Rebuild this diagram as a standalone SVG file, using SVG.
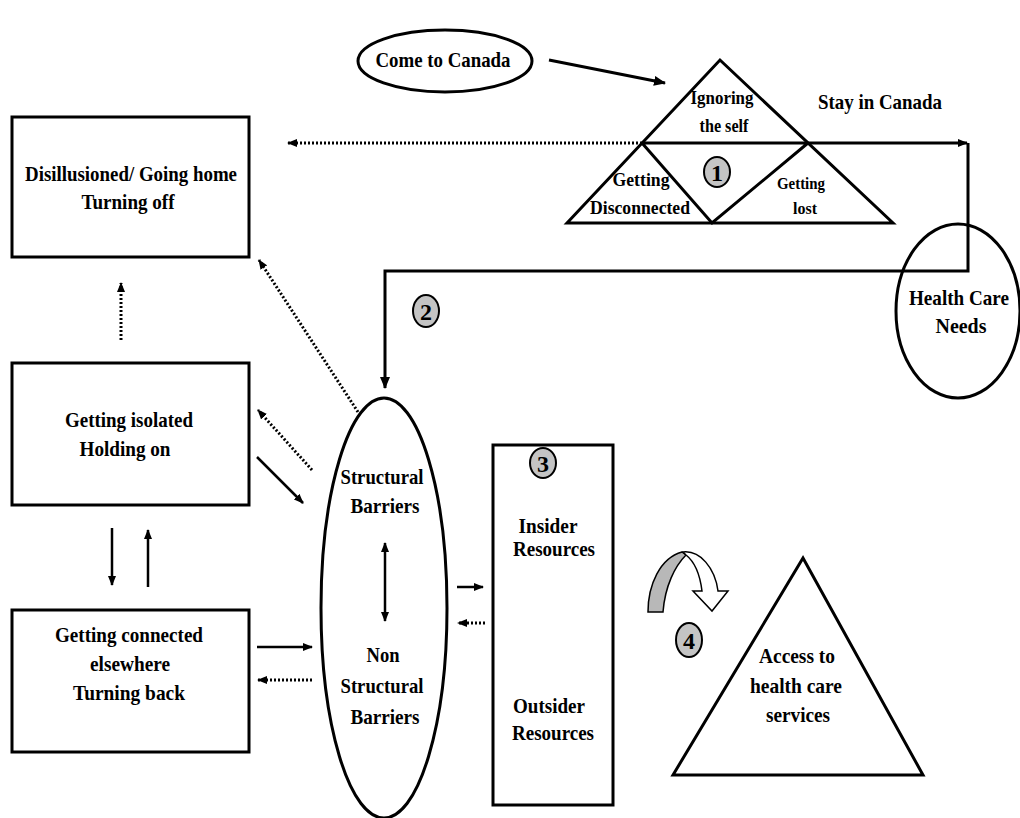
<svg xmlns="http://www.w3.org/2000/svg" width="1020" height="818" viewBox="0 0 1020 818">
  <defs>
    <marker id="head" markerUnits="userSpaceOnUse" markerWidth="12" markerHeight="10" refX="11" refY="5" orient="auto">
      <path d="M0,0 L12,5 L0,10 Z" fill="#000"/>
    </marker>
    <marker id="headSmall" markerUnits="userSpaceOnUse" markerWidth="10" markerHeight="8" refX="9" refY="4" orient="auto">
      <path d="M0,0 L10,4 L0,8 Z" fill="#000"/>
    </marker>
    <marker id="headStart" markerUnits="userSpaceOnUse" markerWidth="10" markerHeight="8" refX="1" refY="4" orient="auto">
      <path d="M10,0 L0,4 L10,8 Z" fill="#000"/>
    </marker>
  </defs>
  <style>
    .shape { fill: #fff; stroke: #000; stroke-width: 3; }
    .edge { fill: none; stroke: #000; stroke-width: 3; }
    .solid { fill: none; stroke: #000; stroke-width: 2.5; }
    .dot { fill: none; stroke: #000; stroke-width: 3; stroke-dasharray: 2 2; }
    .lbl { font-family: "Liberation Serif", "Times New Roman", serif; font-weight: bold; font-size: 21px; fill: #000; text-anchor: middle; }
    .small { font-size: 19px; }
    .tiny { font-size: 16px; }
    .badge { fill: #c4c4c4; stroke: #000; stroke-width: 2; }
    .num { font-family: "Liberation Serif", serif; font-weight: bold; font-size: 24px; fill: #000; text-anchor: middle; }
  </style>
  <rect width="1020" height="818" fill="#fff"/>

  <!-- connectors -->
  <g id="connectors">
    <path class="edge" d="M549,60 L665,83" marker-end="url(#head)"/>
    <path class="dot" d="M642,143 L288,143" marker-end="url(#headSmall)"/>
    <path class="edge" d="M808,143 L967,143" marker-end="url(#headSmall)"/>
    <path class="edge" d="M968,143 L968,271 L385,271 L385,388" marker-end="url(#head)"/>
    <path class="dot" d="M358,412 L259,260" marker-end="url(#headSmall)"/>
    <path class="dot" d="M121,340 L121,283" marker-end="url(#headSmall)"/>
    <path class="dot" d="M312,470 L258,410" marker-end="url(#headSmall)"/>
    <path class="solid" d="M257,457 L303,503" marker-end="url(#headSmall)"/>
    <path class="solid" d="M112,528 L112,585" marker-end="url(#headSmall)"/>
    <path class="solid" d="M148,587 L148,530" marker-end="url(#headSmall)"/>
    <path class="solid" d="M257,647 L312,647" marker-end="url(#headSmall)"/>
    <path class="dot" d="M312,680 L258,680" marker-end="url(#headSmall)"/>
    <path class="solid" d="M385,543 L385,621" marker-start="url(#headStart)" marker-end="url(#headSmall)"/>
    <path class="solid" d="M457,587 L483,587" marker-end="url(#headSmall)"/>
    <path class="dot" d="M485,623 L458,623" marker-end="url(#headSmall)"/>
    <path class="solid" d="M538,598 L538,645" marker-end="url(#headSmall)"/>
    <path class="solid" d="M566,633 L566,587" marker-end="url(#headSmall)"/>
  </g>

  <g id="come-to-canada">
    <ellipse class="shape" cx="445" cy="61" rx="87" ry="31"/>
    <text class="lbl" x="443" y="67" textLength="135" lengthAdjust="spacingAndGlyphs">Come to Canada</text>
  </g>

  <g id="stages">
    <path class="shape" d="M567,223 L720,60 L893,223 Z"/>
    <path class="edge" d="M642,143 L808,143 M642,143 L712,223 L808,143"/>
    <text class="lbl small" x="722" y="104" textLength="63" lengthAdjust="spacingAndGlyphs">Ignoring</text>
    <text class="lbl small" x="724" y="132" textLength="49" lengthAdjust="spacingAndGlyphs">the self</text>
    <text class="lbl small" x="641" y="186" textLength="57" lengthAdjust="spacingAndGlyphs">Getting</text>
    <text class="lbl small" x="640" y="214" textLength="100" lengthAdjust="spacingAndGlyphs">Disconnected</text>
    <text class="lbl tiny" x="801" y="189" textLength="48" lengthAdjust="spacingAndGlyphs">Getting</text>
    <text class="lbl tiny" x="805" y="214" textLength="24" lengthAdjust="spacingAndGlyphs">lost</text>
    <ellipse class="badge" cx="717" cy="172" rx="13" ry="15"/>
    <text class="num" x="717" y="181">1</text>
  </g>

  <g id="stay-in-canada">
    <text class="lbl" x="880" y="109" textLength="124" lengthAdjust="spacingAndGlyphs">Stay in Canada</text>
  </g>

  <g id="health-care-needs">
    <ellipse class="edge" cx="958" cy="311" rx="62" ry="87"/>
    <text class="lbl" x="959" y="305" textLength="100" lengthAdjust="spacingAndGlyphs">Health Care</text>
    <text class="lbl" x="961" y="333" textLength="51" lengthAdjust="spacingAndGlyphs">Needs</text>
  </g>

  <g id="marker-2">
    <ellipse class="badge" cx="426" cy="311" rx="13" ry="16"/>
    <text class="num" x="426" y="320">2</text>
  </g>

  <g id="disillusioned">
    <rect class="shape" x="12" y="117" width="237" height="140"/>
    <text class="lbl" x="131" y="181" textLength="212" lengthAdjust="spacingAndGlyphs">Disillusioned/ Going home</text>
    <text class="lbl" x="128" y="209" textLength="93" lengthAdjust="spacingAndGlyphs">Turning off</text>
  </g>

  <g id="getting-isolated">
    <rect class="shape" x="12" y="363" width="237" height="142"/>
    <text class="lbl" x="129" y="427" textLength="128" lengthAdjust="spacingAndGlyphs">Getting isolated</text>
    <text class="lbl" x="125" y="456" textLength="91" lengthAdjust="spacingAndGlyphs">Holding on</text>
  </g>

  <g id="getting-connected">
    <rect class="shape" x="12" y="610" width="237" height="142"/>
    <text class="lbl" x="129" y="642" textLength="148" lengthAdjust="spacingAndGlyphs">Getting connected</text>
    <text class="lbl" x="130" y="671" textLength="80" lengthAdjust="spacingAndGlyphs">elsewhere</text>
    <text class="lbl" x="129" y="700" textLength="112" lengthAdjust="spacingAndGlyphs">Turning back</text>
  </g>

  <g id="barriers">
    <ellipse class="edge" cx="384" cy="608" rx="63" ry="210"/>
    <text class="lbl" x="382" y="484" textLength="83" lengthAdjust="spacingAndGlyphs">Structural</text>
    <text class="lbl" x="385" y="513" textLength="69" lengthAdjust="spacingAndGlyphs">Barriers</text>
    <text class="lbl" x="383" y="662" textLength="33" lengthAdjust="spacingAndGlyphs">Non</text>
    <text class="lbl" x="382" y="693" textLength="83" lengthAdjust="spacingAndGlyphs">Structural</text>
    <text class="lbl" x="385" y="724" textLength="69" lengthAdjust="spacingAndGlyphs">Barriers</text>
  </g>

  <g id="resources">
    <rect class="shape" x="493" y="445" width="120" height="360"/>
    <ellipse class="badge" cx="543" cy="463" rx="13" ry="15"/>
    <text class="num" x="543" y="472">3</text>
    <text class="lbl" x="548" y="533" textLength="59" lengthAdjust="spacingAndGlyphs">Insider</text>
    <text class="lbl" x="554" y="556" textLength="82" lengthAdjust="spacingAndGlyphs">Resources</text>
    <text class="lbl" x="549" y="713" textLength="72" lengthAdjust="spacingAndGlyphs">Outsider</text>
    <text class="lbl" x="553" y="740" textLength="82" lengthAdjust="spacingAndGlyphs">Resources</text>
  </g>

  <g id="turn-arrow">
    <path d="M648,612 C648,585 660,558 682,552 L686,555 C675,566 665,586 663,612 Z" fill="#b8b8b8" stroke="#000" stroke-width="1.5"/>
    <path d="M683,552 C700,550 715,568 718,591 L728,591 L712,611 L693,591 L702,591 C700,575 695,562 686,555 Z" fill="#fff" stroke="#000" stroke-width="1.5"/>
  </g>

  <g id="marker-4">
    <ellipse class="badge" cx="689" cy="640" rx="13" ry="17"/>
    <text class="num" x="689" y="649">4</text>
  </g>

  <g id="access">
    <path class="shape" d="M673,775 L803,558 L923,775 Z"/>
    <text class="lbl" x="797" y="663" textLength="76" lengthAdjust="spacingAndGlyphs">Access to</text>
    <text class="lbl" x="796" y="693" textLength="92" lengthAdjust="spacingAndGlyphs">health care</text>
    <text class="lbl" x="798" y="722" textLength="64" lengthAdjust="spacingAndGlyphs">services</text>
  </g>
</svg>
